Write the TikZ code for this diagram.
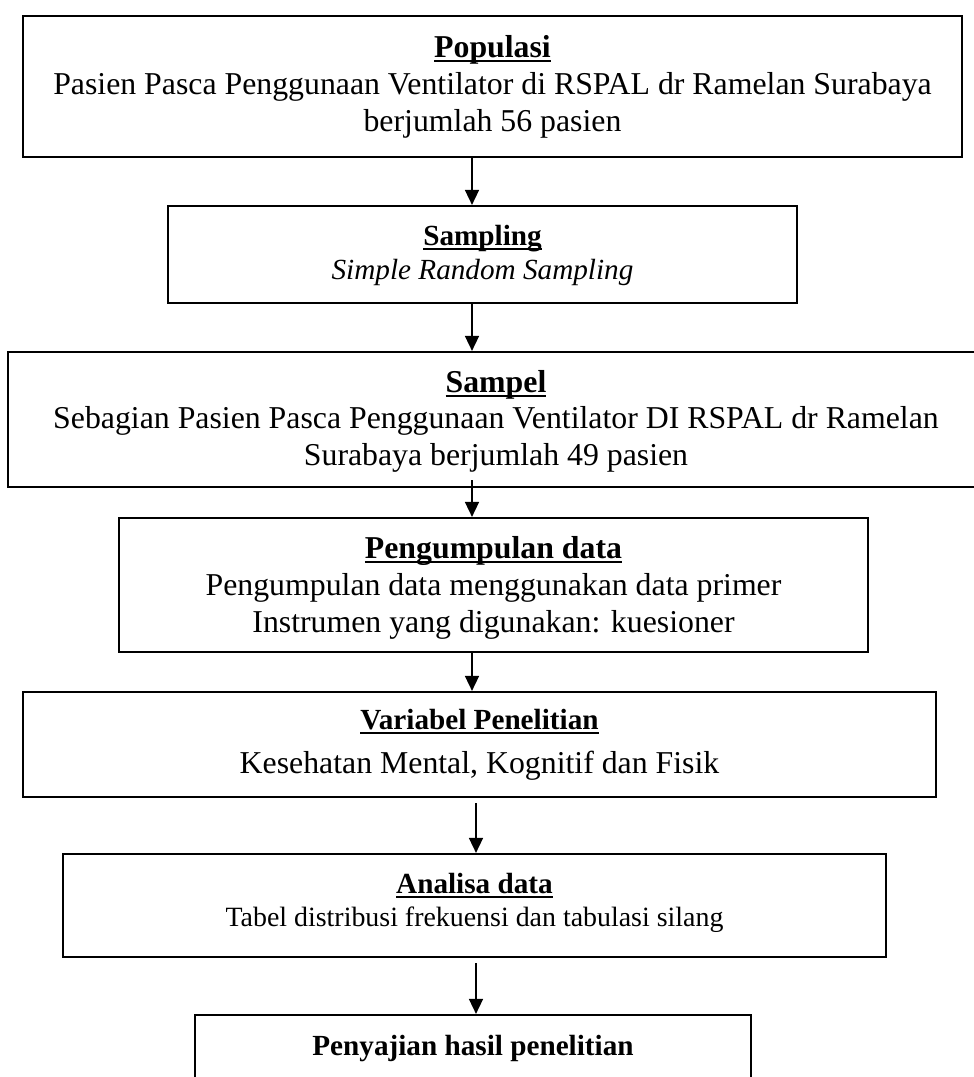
\documentclass[tikz,border=0pt]{standalone}
\usepackage{fontspec}
\setmainfont{Liberation Serif}
\usetikzlibrary{arrows.meta}
\newcommand{\ulbox}[1]{\setbox0\hbox{#1}\rlap{\rule[-5pt]{\wd0}{2pt}}\box0}
\newcommand{\szA}{\fontsize{31.8}{36}\selectfont}
\newcommand{\szB}{\fontsize{29.2}{33}\selectfont}
\newcommand{\szC}{\fontsize{27.9}{32}\selectfont}
\begin{document}
\begin{tikzpicture}[x=1pt,y=-1pt,
  box/.style={draw, line width=2.2pt, inner sep=0pt, rectangle},
  arr/.style={line width=1.6pt, -{Triangle[width=14pt,length=15pt]}},
  txt/.style={anchor=base, inner sep=0pt}]
\useasboundingbox (0,0) rectangle (974,1077);
\clip (0,0) rectangle (974,1077);
% boxes
\node[box, minimum width=939pt, minimum height=141pt] (b1) at (492.5,86.5) {};
\node[box, minimum width=629pt, minimum height=97pt]  (b2) at (482.5,254.5) {};
\node[box, minimum width=976pt, minimum height=135pt] (b3) at (496,419.5) {};
\node[box, minimum width=749pt, minimum height=134pt] (b4) at (493.5,585) {};
\node[box, minimum width=913pt, minimum height=105pt] (b5) at (479.5,744.5) {};
\node[box, minimum width=823pt, minimum height=103pt] (b6) at (474.5,905.5) {};
\node[box, minimum width=556pt, minimum height=95pt]  (b7) at (473,1062.5) {};
% texts
\node[txt] (t1a) at (492.5,57)  {\szA\bfseries\ulbox{Populasi}};
\node[txt] (t1b) at (492.5,94)  {\szA Pasien Pasca Penggunaan Ventilator di RSPAL dr Ramelan Surabaya};
\node[txt] (t1c) at (492.5,131) {\szA berjumlah 56 pasien};
\node[txt] (t2a) at (482.5,245) {\szB\bfseries\ulbox{Sampling}};
\node[txt] (t2b) at (482.5,279) {\szB\itshape Simple Random Sampling};
\node[txt] (t3a) at (496,392) {\szA\bfseries\ulbox{Sampel}};
\node[txt] (t3b) at (496,428) {\szA Sebagian Pasien Pasca Penggunaan Ventilator DI RSPAL dr Ramelan};
\node[txt] (t3c) at (496,465) {\szA Surabaya berjumlah 49 pasien};
\node[txt] (t4a) at (493.5,558) {\szA\bfseries\ulbox{Pengumpulan data}};
\node[txt] (t4b) at (493.5,595) {\szA Pengumpulan data menggunakan data primer};
\node[txt] (t4c) at (493.5,632) {\szA Instrumen yang digunakan: kuesioner};
\node[txt] (t5a) at (479.5,729) {\szB\bfseries\ulbox{Variabel Penelitian}};
\node[txt] (t5b) at (479.5,773) {\szA Kesehatan Mental, Kognitif dan Fisik};
\node[txt] (t6a) at (474.5,893) {\szB\bfseries\ulbox{Analisa data}};
\node[txt] (t6b) at (474.5,926) {\szC Tabel distribusi frekuensi dan tabulasi silang};
\node[txt] (t7a) at (473,1055) {\szB\bfseries Penyajian hasil penelitian};
% connectors
\coordinate (ax) at (472,0);
\coordinate (bx) at (476,0);
\draw[arr] (b1.south -| ax) -- (b2.north -| ax);
\draw[arr] (b2.south -| ax) -- (b3.north -| ax);
\draw[arr] ([yshift=8pt]b3.south -| ax) -- (b4.north -| ax);
\draw[arr] (b4.south -| ax) -- (b5.north -| ax);
\draw[arr] ([yshift=-5pt]b5.south -| bx) -- (b6.north -| bx);
\draw[arr] ([yshift=-5pt]b6.south -| bx) -- (b7.north -| bx);
\end{tikzpicture}
\end{document}
